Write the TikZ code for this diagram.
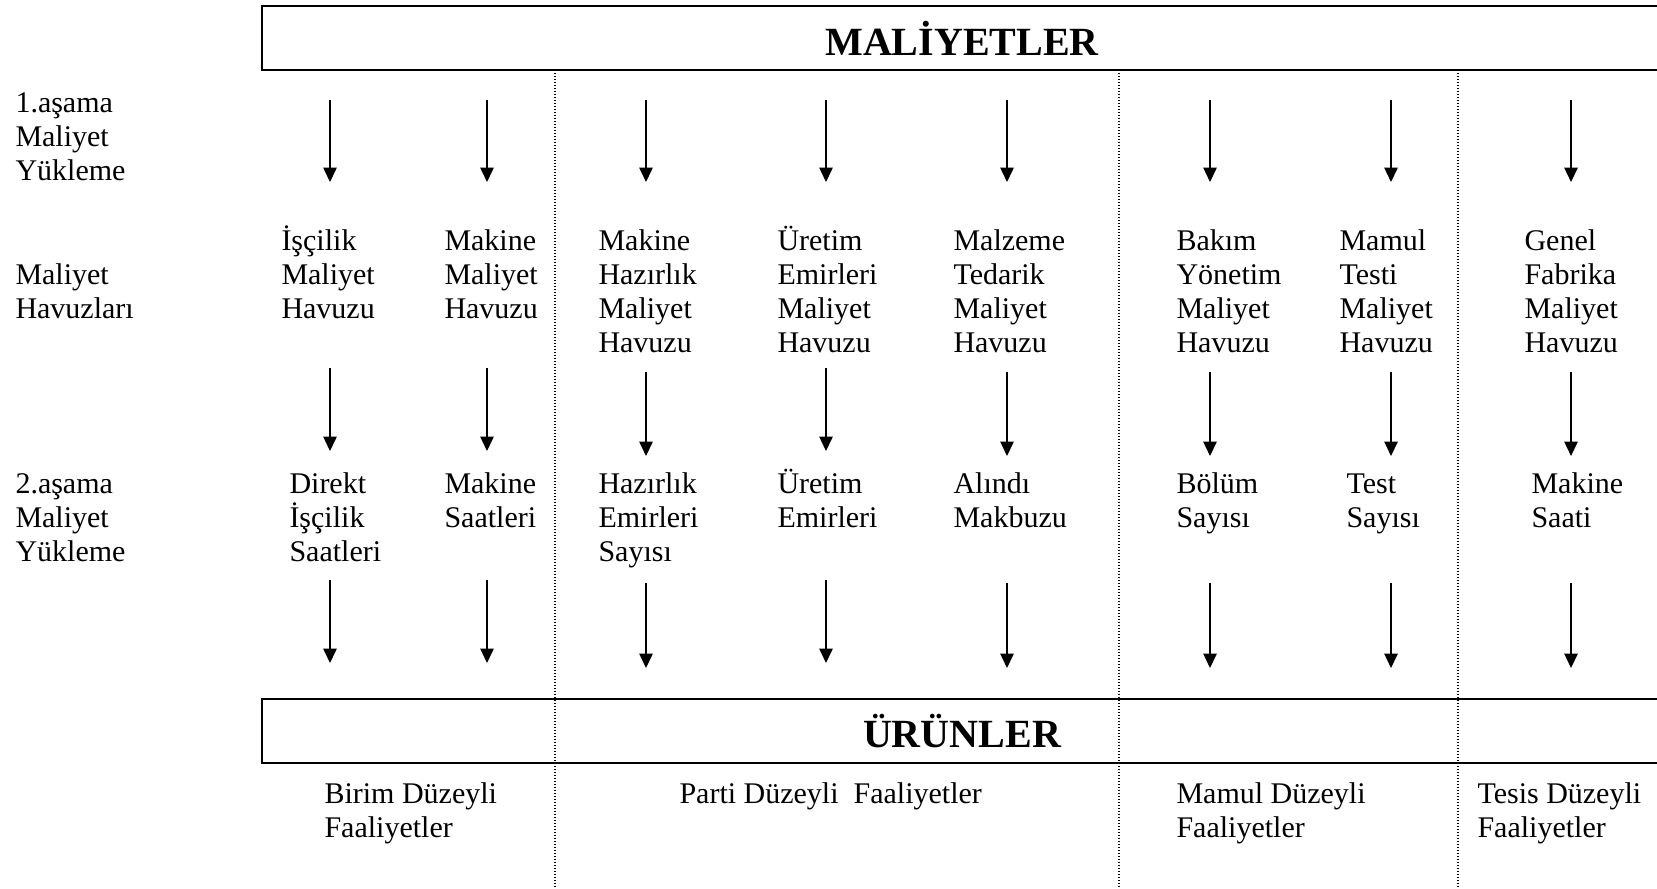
\documentclass[tikz,border=0pt]{standalone}
\usepackage{fontspec}
\setmainfont{Liberation Serif}
\usetikzlibrary{arrows.meta}
\newcommand\tstrut{\rule{0pt}{11pt}}
\begin{document}
\begin{tikzpicture}[x=0.4pt,y=-0.4pt,
  txt/.style={anchor=north west, inner sep=0pt, align=left,
    font=\fontsize{12}{13.6}\selectfont},
  band/.style={draw, line width=0.8pt, minimum width=560pt,
    minimum height=25.6pt, inner sep=0pt,
    font=\fontsize{16}{19}\selectfont\bfseries},
  sep/.style={line width=0.5pt, dash pattern=on 0.5pt off 0.7pt},
  flow/.style={line width=0.6pt, -{Triangle[width=5.4pt,length=5.8pt]}}]

\useasboundingbox (0,0) rectangle (1657,888);
\clip (0,0) rectangle (1657,888);

% activity-level separators
\foreach \x [count=\k] in {555,1119,1458} {
  \coordinate (s\k a) at (\x,70);
  \coordinate (s\k b) at (\x,888);
  \draw[sep] (s\k a) -- (s\k b);
}

% header and footer bands
\node[band] (maliyet) at (962,38) {MALİYETLER};
\node[band] (urun) at (962,731) {ÜRÜNLER};

% row labels
\node[txt] (l1) at (15,84.5) {\tstrut 1.aşama\\Maliyet\\Yükleme};
\node[txt] (l2) at (15,256.5) {\tstrut Maliyet\\Havuzları};
\node[txt] (l3) at (15,465.5) {\tstrut 2.aşama\\Maliyet\\Yükleme};

% cost pools
\node[txt] (p1) at (281,222) {\tstrut İşçilik\\Maliyet\\Havuzu};
\node[txt] (p2) at (444,222) {\tstrut Makine\\Maliyet\\Havuzu};
\node[txt] (p3) at (598,222) {\tstrut Makine\\Hazırlık\\Maliyet\\Havuzu};
\node[txt] (p4) at (777,222) {\tstrut Üretim\\Emirleri\\Maliyet\\Havuzu};
\node[txt] (p5) at (953,222) {\tstrut Malzeme\\Tedarik\\Maliyet\\Havuzu};
\node[txt] (p6) at (1176,222) {\tstrut Bakım\\Yönetim\\Maliyet\\Havuzu};
\node[txt] (p7) at (1339,222) {\tstrut Mamul\\Testi\\Maliyet\\Havuzu};
\node[txt] (p8) at (1524,222) {\tstrut Genel\\Fabrika\\Maliyet\\Havuzu};

% cost drivers
\node[txt] (d1) at (289,465.5) {\tstrut Direkt\\İşçilik\\Saatleri};
\node[txt] (d2) at (444,465.5) {\tstrut Makine\\Saatleri};
\node[txt] (d3) at (598,465.5) {\tstrut Hazırlık\\Emirleri\\Sayısı};
\node[txt] (d4) at (777,465.5) {\tstrut Üretim\\Emirleri};
\node[txt] (d5) at (953,465.5) {\tstrut Alındı\\Makbuzu};
\node[txt] (d6) at (1176,465.5) {\tstrut Bölüm\\Sayısı};
\node[txt] (d7) at (1346,465.5) {\tstrut Test\\Sayısı};
\node[txt] (d8) at (1531,465.5) {\tstrut Makine\\Saati};

% activity levels
\node[txt] (b1) at (324,775.5) {\tstrut Birim Düzeyli\\Faaliyetler};
\node[txt] (b2) at (679,775.5) {\tstrut Parti Düzeyli\ \ Faaliyetler};
\node[txt] (b3) at (1176,775.5) {\tstrut Mamul Düzeyli\\Faaliyetler};
\node[txt] (b4) at (1477,775.5) {\tstrut Tesis Düzeyli\\Faaliyetler};

% allocation arrows: x, row-2 start/end, row-3 start/end
\foreach \x/\ya/\yb/\yc/\yd [count=\k] in
  {330/368/451/580/663, 487/368/451/580/663, 646/372/456/583/668,
   826/368/451/580/663, 1007/372/456/583/668, 1210/372/456/583/668,
   1391/372/456/583/668, 1571/372/456/583/668} {
  \coordinate (a\k) at (\x,100);
  \coordinate (b\k) at (\x,182);
  \coordinate (c\k) at (\x,\ya);
  \coordinate (e\k) at (\x,\yb);
  \coordinate (f\k) at (\x,\yc);
  \coordinate (g\k) at (\x,\yd);
  \draw[flow] (a\k) -- (b\k);
  \draw[flow] (c\k) -- (e\k);
  \draw[flow] (f\k) -- (g\k);
}
\end{tikzpicture}
\end{document}
